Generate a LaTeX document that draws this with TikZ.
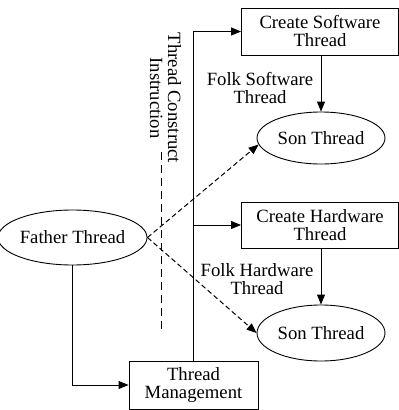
\documentclass[tikz,border=0pt]{standalone}
\usepackage{fontspec}
\setmainfont{Liberation Serif}
\usetikzlibrary{arrows.meta,shapes.geometric}
\begin{document}
\begin{tikzpicture}[x=1pt,y=-1pt,
  every node/.style={font=\fontsize{18.7}{18}\selectfont, align=center, inner sep=0pt},
  box/.style={draw, line width=0.9pt, rectangle, minimum width=157pt, minimum height=47pt},
  oval/.style={draw, line width=0.9pt, ellipse, minimum width=128pt, minimum height=54pt},
  link/.style={line width=0.9pt},
  tip/.style={-{Triangle[length=10pt,width=8pt]}},
  dash link/.style={line width=1pt, dash pattern=on 5pt off 3pt, -{Triangle[length=10pt,width=8pt]}}]
\useasboundingbox (0,0) rectangle (399,410);

% boxes and ovals
\node[box] (csw) at (320,31.5) {Create Software\\Thread};
\node[oval, minimum height=52pt] (son1) at (321,138) {Son Thread};
\node[box, minimum height=46pt] (chw) at (320,225) {Create Hardware\\Thread};
\node[oval, minimum height=56pt] (son2) at (321,333) {Son Thread};
\node[oval, minimum width=129pt, minimum height=55pt] (father) at (72.5,237.5) {Father Thread};
\node[box, minimum width=129pt, minimum height=48pt] (tm) at (193.5,385) {Thread\\Management};

% labels
\node (lsw) at (260,88) {Folk Software\\Thread};
\node (lhw) at (257,279.5) {Folk Hardware\\Thread};
\node[rotate=-90] (ltc) at (165.5,98) {Thread Construct\\Instruction};

% solid connectors
\draw[link, tip] (father.south) |- (tm.west);
\draw[link, tip] (tm.north) |- (csw.west);
\draw[link, tip] (tm.north |- chw.west) -- (chw.west);
\draw[link, tip] (csw.south -| son1.north) -- (son1.north);
\draw[link, tip] (chw.south -| son2.north) -- (son2.north);

% dashed connectors
\draw[dash link] (father.east) -- (son1.186);
\draw[dash link] (father.east) -- (son2.west);
\coordinate (dtop) at (161,152);
\coordinate (dbot) at (161,333);
\draw[line width=1pt, dash pattern=on 8pt off 5pt] (dtop) -- (dbot);
\end{tikzpicture}
\end{document}
